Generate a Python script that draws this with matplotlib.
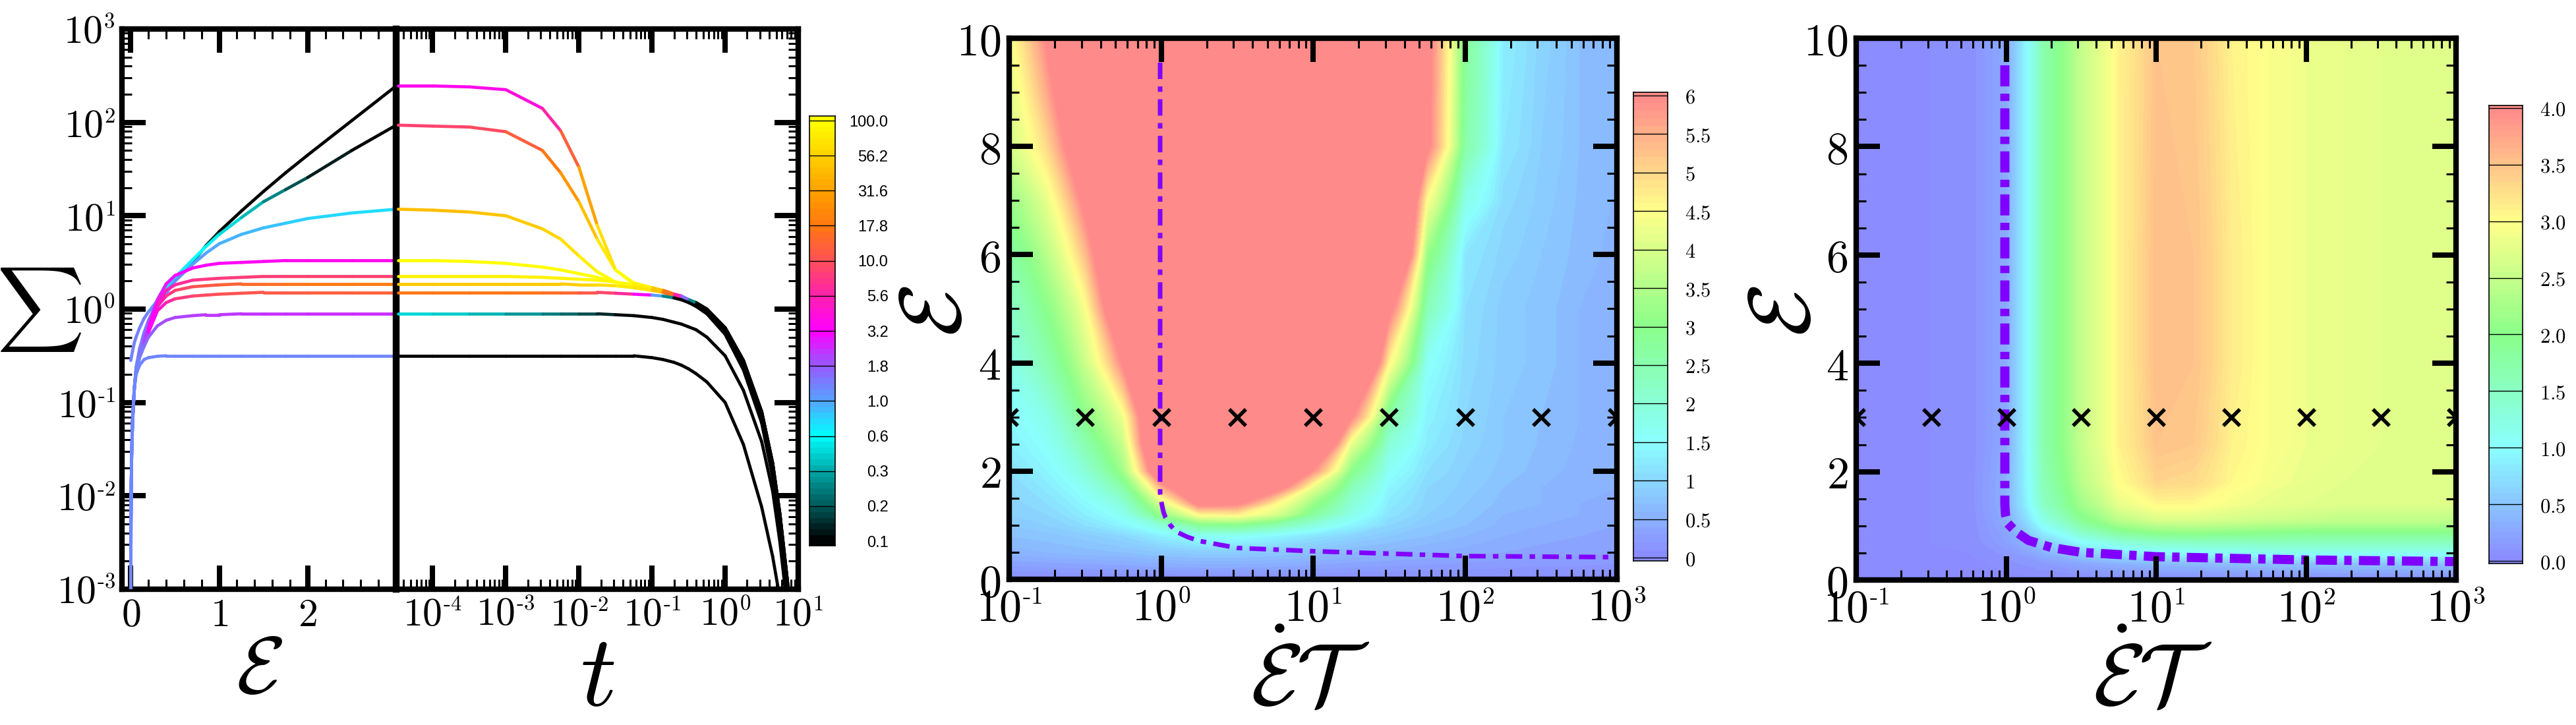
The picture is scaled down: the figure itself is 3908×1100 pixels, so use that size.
import numpy as np
import matplotlib
matplotlib.use("Agg")
import matplotlib.pyplot as plt
from matplotlib.collections import LineCollection
from matplotlib.colors import LinearSegmentedColormap, LogNorm, Normalize, ListedColormap, hsv_to_rgb
from matplotlib.ticker import FixedLocator, FixedFormatter, NullFormatter, LogLocator

try:
    import matplotlib._mathtext as _mt
    _mt.SHRINK_FACTOR = 0.55
except Exception:
    pass

plt.rcParams["mathtext.fontset"] = "cm"
plt.rcParams["font.family"] = ["DejaVu Serif"]
plt.rcParams["axes.axisbelow"] = False

# ===================== DATA =====================
# ---- left panel: loading (Sigma vs strain), log10(Sigma) and colour value ----
eps_pts = [0.0, 0.002, 0.005, 0.01, 0.02, 0.04, 0.06, 0.1, 0.15, 0.2, 0.3, 0.4,
           0.5, 0.7, 0.85, 1.0, 1.25, 1.5, 1.75, 2.0, 2.5, 3.0]
load_sig_1 = [-0.55, -0.54, -0.52, -0.5, -0.45, -0.36, -0.3, -0.2, -0.1, -0.03, 0.09, 0.2,
              0.3, 0.5, 0.68, 0.83, 1.05, 1.26, 1.46, 1.65, 2.02, 2.39]
load_sig_2 = [-3.6, -2.3, -1.9, -1.55, -1.2, -0.85, -0.62, -0.42, -0.25, -0.12, 0.07, 0.22,
              0.34, 0.53, 0.67, 0.8, 0.98, 1.15, 1.28, 1.41, 1.70, 1.97]
load_sig_3 = [-3.6, -2.3, -1.9, -1.55, -1.2, -0.85, -0.64, -0.45, -0.3, -0.17, 0.02, 0.17,
              0.3, 0.48, 0.6, 0.7, 0.8, 0.87, 0.92, 0.97, 1.03, 1.07]
load_sig_4 = [-3.6, -2.3, -1.9, -1.55, -1.2, -0.85, -0.65, -0.47, -0.3, -0.15, 0.1, 0.27,
              0.36, 0.44, 0.47, 0.49, 0.5, 0.51, 0.52, 0.52, 0.52, 0.52]
load_sig_5 = [-3.6, -2.3, -1.9, -1.55, -1.2, -0.85, -0.66, -0.48, -0.33, -0.2, 0.07, 0.2,
              0.26, 0.31, 0.32, 0.33, 0.34, 0.35, 0.35, 0.35, 0.35, 0.35]
load_sig_6 = [-3.6, -2.3, -1.9, -1.55, -1.2, -0.85, -0.66, -0.49, -0.35, -0.22, 0.03, 0.14,
              0.2, 0.24, 0.25, 0.26, 0.27, 0.27, 0.27, 0.27, 0.27, 0.27]
load_sig_7 = [-3.6, -2.3, -1.9, -1.55, -1.2, -0.85, -0.67, -0.5, -0.37, -0.25, -0.02, 0.07,
              0.11, 0.14, 0.15, 0.16, 0.17, 0.18, 0.18, 0.18, 0.18, 0.18]
load_sig_8 = [-3.6, -2.3, -1.9, -1.55, -1.2, -0.85, -0.68, -0.52, -0.4, -0.3, -0.18, -0.12,
              -0.09, -0.07, -0.06, -0.06, -0.05, -0.05, -0.05, -0.05, -0.05, -0.05]
load_sig_9 = [-3.6, -2.3, -1.9, -1.55, -1.2, -0.85, -0.7, -0.6, -0.54, -0.52, -0.505, -0.5,
              -0.5, -0.5, -0.5, -0.5, -0.5, -0.5, -0.5, -0.5, -0.5, -0.5]

load_col_1 = [1.3, 1.3, 1.3, 1.3, 1.3, 1.3, 1.3, 1.3, 1.3, 1.3, 1.0, 0.8,
              0.65, 0.35, 0.18, 0.1, 0.1, 0.1, 0.1, 0.1, 0.1, 0.1]
load_col_2 = [1.3, 1.3, 1.3, 1.3, 1.3, 1.3, 1.3, 1.3, 1.3, 1.3, 1.0, 0.8,
              0.7, 0.6, 0.55, 0.5, 0.4, 0.3, 0.2, 0.15, 0.1, 0.1]
load_col_3 = [1.3, 1.3, 1.3, 1.3, 1.3, 1.3, 1.3, 1.3, 1.3, 1.3, 1.3, 1.25,
              1.2, 1.1, 1.0, 0.95, 0.9, 0.85, 0.8, 0.75, 0.72, 0.7]
load_col_4 = [1.3, 1.3, 1.3, 1.3, 1.3, 1.3, 1.3, 1.3, 1.5, 1.8, 2.4, 2.8,
              3.0, 3.2, 3.3, 3.3, 3.4, 3.5, 3.5, 3.6, 3.6, 3.6]
load_col_5 = [1.3, 1.3, 1.3, 1.3, 1.3, 1.3, 1.3, 1.3, 1.8, 2.5, 4.0, 5.0,
              6.0, 7.0, 7.5, 7.8, 8.0, 8.2, 8.4, 8.5, 8.5, 8.5]
load_col_6 = [1.3, 1.3, 1.3, 1.3, 1.3, 1.3, 1.3, 1.3, 1.8, 2.6, 4.5, 6.5,
              8.0, 10.0, 11.0, 12.0, 14.0, 15.0, 16.0, 17.0, 18.0, 19.0]
load_col_7 = [1.3, 1.3, 1.3, 1.3, 1.3, 1.3, 1.3, 1.3, 1.8, 2.5, 4.0, 5.5,
              7.0, 8.5, 9.5, 10.0, 10.5, 11.0, 11.5, 12.0, 12.5, 13.0]
load_col_8 = [1.3, 1.3, 1.3, 1.3, 1.3, 1.3, 1.3, 1.3, 1.5, 1.6, 1.8, 1.9,
              2.0, 2.1, 2.15, 2.2, 2.25, 2.3, 2.3, 2.35, 2.4, 2.4]
load_col_9 = [1.25] * 22

# ---- left panel: relaxation (Sigma vs time), log10(t), log10(Sigma), colour ----
logt_pts = [-4.47, -4.0, -3.5, -3.0, -2.5, -2.25, -2.0, -1.75, -1.5, -1.25, -1.0, -0.85,
            -0.7, -0.6, -0.5, -0.4, -0.25, 0.0, 0.25, 0.5, 0.65, 0.75, 0.85, 0.95]
rel_sig_1 = [2.39, 2.39, 2.38, 2.35, 2.15, 1.91, 1.52, 0.9, 0.42, 0.27, 0.22, 0.2,
             0.16, 0.14, 0.1, 0.07, 0.0, -0.2, -0.55, -1.1, -1.65, -2.2, -2.9, -3.6]
rel_sig_2 = [1.97, 1.96, 1.95, 1.9, 1.7, 1.46, 1.15, 0.75, 0.42, 0.28, 0.23, 0.2,
             0.16, 0.14, 0.1, 0.07, 0.0, -0.2, -0.55, -1.1, -1.65, -2.2, -2.9, -3.6]
rel_sig_3 = [1.07, 1.06, 1.04, 1.0, 0.86, 0.75, 0.57, 0.4, 0.29, 0.24, 0.22, 0.2,
             0.16, 0.14, 0.1, 0.07, 0.0, -0.2, -0.55, -1.1, -1.65, -2.2, -2.9, -3.6]
rel_sig_4 = [0.52, 0.52, 0.51, 0.49, 0.45, 0.42, 0.38, 0.34, 0.29, 0.25, 0.21, 0.19,
             0.15, 0.12, 0.09, 0.06, -0.02, -0.22, -0.57, -1.12, -1.67, -2.23, -2.93, -3.6]
rel_sig_5 = [0.35, 0.35, 0.35, 0.35, 0.34, 0.33, 0.32, 0.31, 0.29, 0.26, 0.21, 0.19,
             0.15, 0.12, 0.09, 0.06, -0.02, -0.22, -0.57, -1.12, -1.67, -2.23, -2.93, -3.6]
rel_sig_6 = [0.27, 0.27, 0.27, 0.27, 0.27, 0.27, 0.26, 0.26, 0.25, 0.23, 0.2, 0.18,
             0.14, 0.11, 0.08, 0.05, -0.03, -0.24, -0.6, -1.15, -1.7, -2.27, -2.97, -3.6]
rel_sig_7 = [0.18, 0.18, 0.18, 0.18, 0.18, 0.18, 0.18, 0.18, 0.17, 0.16, 0.15, 0.14,
             0.12, 0.1, 0.07, 0.03, -0.05, -0.27, -0.65, -1.22, -1.8, -2.4, -3.1, -3.8]
rel_sig_8 = [-0.05, -0.05, -0.05, -0.05, -0.05, -0.05, -0.05, -0.05, -0.06, -0.07, -0.09, -0.11,
             -0.14, -0.16, -0.19, -0.22, -0.3, -0.5, -0.87, -1.42, -1.95, -2.5, -3.2, -3.9]
rel_sig_9 = [-0.5, -0.5, -0.5, -0.5, -0.5, -0.5, -0.5, -0.5, -0.5, -0.5, -0.52, -0.54,
             -0.57, -0.6, -0.64, -0.69, -0.78, -1.0, -1.45, -2.12, -2.65, -3.1, -3.7, -4.3]

rel_col_1 = [3.6, 3.6, 3.6, 3.7, 4.5, 8.0, 20.0, 50.0, 90.0, 100.0, 70.0, 35.0,
             8.0, 4.0, 0.6, 0.1, 0.1, 0.1, 0.1, 0.1, 0.1, 0.1, 0.1, 0.1]
rel_col_2 = [8.5, 8.5, 9.0, 10.0, 15.0, 22.0, 35.0, 60.0, 90.0, 100.0, 70.0, 35.0,
             8.0, 4.0, 0.6, 0.1, 0.1, 0.1, 0.1, 0.1, 0.1, 0.1, 0.1, 0.1]
rel_col_3 = [45.0, 45.0, 46.0, 48.0, 55.0, 62.0, 75.0, 90.0, 100.0, 100.0, 70.0, 35.0,
             8.0, 4.0, 0.6, 0.1, 0.1, 0.1, 0.1, 0.1, 0.1, 0.1, 0.1, 0.1]
rel_col_4 = [100.0, 100.0, 100.0, 100.0, 100.0, 100.0, 100.0, 100.0, 100.0, 100.0, 70.0, 35.0,
             8.0, 4.0, 0.6, 0.1, 0.1, 0.1, 0.1, 0.1, 0.1, 0.1, 0.1, 0.1]
rel_col_5 = [85.0, 85.0, 85.0, 85.0, 85.0, 85.0, 88.0, 90.0, 92.0, 95.0, 70.0, 35.0,
             8.0, 4.0, 0.6, 0.1, 0.1, 0.1, 0.1, 0.1, 0.1, 0.1, 0.1, 0.1]
rel_col_6 = [50.0, 50.0, 50.0, 50.0, 50.0, 50.0, 55.0, 60.0, 70.0, 80.0, 65.0, 35.0,
             8.0, 4.0, 0.6, 0.1, 0.1, 0.1, 0.1, 0.1, 0.1, 0.1, 0.1, 0.1]
rel_col_7 = [17.0, 17.0, 17.0, 17.0, 16.0, 15.0, 13.0, 10.0, 8.0, 5.0, 1.8, 0.6,
             0.1, 0.1, 0.1, 0.1, 0.1, 0.1, 0.1, 0.1, 0.1, 0.1, 0.1, 0.1]
rel_col_8 = [0.45, 0.42, 0.38, 0.32, 0.25, 0.22, 0.18, 0.15, 0.12, 0.1, 0.1, 0.1,
             0.1, 0.1, 0.1, 0.1, 0.1, 0.1, 0.1, 0.1, 0.1, 0.1, 0.1, 0.1]
rel_col_9 = [0.1] * 24

cb1_ticks = [0.1, 0.178, 0.316, 0.562, 1.0, 1.78, 3.16, 5.62, 10.0, 17.8, 31.6, 56.2, 100.0]
cb1_labels = ["0.1", "0.2", "0.3", "0.6", "1.0", "1.8", "3.2", "5.6", "10.0", "17.8",
              "31.6", "56.2", "100.0"]
cb1_colors = ["#000000", "#005858", "#00a8a8", "#00ffff", "#55a4ff", "#9858ff", "#ff00ff",
              "#ff20b0", "#ff5058", "#ff7810", "#ffa000", "#ffd000", "#ffff00"]

eps_ticks = [0, 1, 2]
sig_ticks = [1e-3, 1e-2, 1e-1, 1e0, 1e1, 1e2, 1e3]
sig_labels = [r"$10^{\text{-}3}$", r"$10^{\text{-}2}$", r"$10^{\text{-}1}$", r"$10^{0}$",
              r"$10^{1}$", r"$10^{2}$", r"$10^{3}$"]
t_ticks = [1e-4, 1e-3, 1e-2, 1e-1, 1e0, 1e1]
t_labels = [r"$10^{\text{-}4}$", r"$10^{\text{-}3}$", r"$10^{\text{-}2}$", r"$10^{\text{-}1}$",
            r"$10^{0}$", r"$10^{1}$"]

# ---- middle / right maps: grid of rate (x) and strain (y) ----
map_rate = [0.1, 0.178, 0.316, 0.562, 1.0, 1.78, 3.16, 5.62, 10.0, 17.8, 31.6, 56.2,
            100.0, 178.0, 316.0, 562.0, 1000.0]
mid_eps = [0.0, 0.5, 0.8, 1.0, 1.2, 1.4, 1.7, 2.0, 2.5, 3.0, 4.0, 5.0, 6.0, 7.0, 8.0, 9.0, 10.0]
mid_vals = [
    [0.05, 0.05, 0.05, 0.05, 0.05, 0.05, 0.05, 0.05, 0.05, 0.05, 0.05, 0.05, 0.05, 0.05, 0.05, 0.05, 0.05],
    [0.55, 0.6, 0.65, 0.7, 0.8, 0.85, 0.85, 0.8, 0.7, 0.6, 0.55, 0.5, 0.45, 0.4, 0.35, 0.35, 0.3],
    [0.7, 0.75, 0.85, 1.0, 1.3, 1.6, 1.6, 1.4, 1.15, 0.95, 0.8, 0.7, 0.6, 0.5, 0.45, 0.4, 0.4],
    [0.8, 0.9, 1.1, 1.4, 2.0, 2.8, 2.9, 2.5, 1.9, 1.4, 1.0, 0.8, 0.7, 0.55, 0.5, 0.45, 0.4],
    [0.9, 1.0, 1.3, 1.7, 3.2, 4.6, 4.7, 4.0, 2.7, 1.8, 1.15, 0.9, 0.75, 0.6, 0.55, 0.5, 0.45],
    [0.95, 1.1, 1.45, 2.0, 4.0, 6.3, 6.1, 4.6, 3.2, 2.0, 1.25, 0.95, 0.8, 0.65, 0.6, 0.5, 0.45],
    [1.0, 1.25, 1.7, 2.6, 5.5, 8.0, 8.0, 6.5, 4.2, 2.4, 1.4, 1.0, 0.85, 0.7, 0.6, 0.55, 0.5],
    [1.1, 1.4, 2.0, 3.3, 7.5, 9.0, 9.0, 9.0, 5.9, 3.0, 1.6, 1.1, 0.9, 0.75, 0.65, 0.55, 0.5],
    [1.3, 1.6, 2.5, 3.8, 9.0, 9.0, 9.0, 9.0, 8.0, 4.2, 2.0, 1.25, 0.95, 0.8, 0.68, 0.58, 0.5],
    [1.45, 1.8, 3.0, 4.3, 9.0, 9.0, 9.0, 9.0, 9.0, 6.1, 2.6, 1.35, 1.0, 0.8, 0.7, 0.6, 0.5],
    [1.8, 2.5, 3.8, 6.1, 9.0, 9.0, 9.0, 9.0, 9.0, 9.0, 4.6, 1.6, 1.05, 0.85, 0.75, 0.6, 0.5],
    [2.2, 3.0, 4.4, 8.0, 9.0, 9.0, 9.0, 9.0, 9.0, 9.0, 6.3, 2.4, 1.1, 0.85, 0.75, 0.6, 0.55],
    [2.6, 3.6, 5.3, 9.0, 9.0, 9.0, 9.0, 9.0, 9.0, 9.0, 9.0, 3.2, 1.2, 0.95, 0.8, 0.65, 0.55],
    [3.2, 4.2, 6.3, 9.0, 9.0, 9.0, 9.0, 9.0, 9.0, 9.0, 9.0, 4.5, 1.8, 1.05, 0.85, 0.68, 0.58],
    [3.9, 5.0, 7.5, 9.0, 9.0, 9.0, 9.0, 9.0, 9.0, 9.0, 9.0, 6.2, 2.6, 1.2, 0.9, 0.7, 0.6],
    [4.1, 5.6, 8.5, 9.0, 9.0, 9.0, 9.0, 9.0, 9.0, 9.0, 9.0, 6.25, 2.7, 1.25, 0.92, 0.7, 0.6],
    [4.4, 6.1, 9.0, 9.0, 9.0, 9.0, 9.0, 9.0, 9.0, 9.0, 9.0, 6.3, 2.8, 1.3, 0.95, 0.7, 0.6],
]
right_eps = [0.0, 0.3, 0.5, 0.7, 0.9, 1.1, 1.4, 1.8, 2.5, 4.0, 6.0, 10.0]
right_vals = [
    [0.02, 0.02, 0.02, 0.02, 0.02, 0.02, 0.02, 0.02, 0.02, 0.02, 0.02, 0.02, 0.02, 0.02, 0.02, 0.02, 0.02],
    [0.03, 0.03, 0.03, 0.03, 0.08, 0.15, 0.25, 0.35, 0.4, 0.42, 0.45, 0.47, 0.48, 0.5, 0.5, 0.5, 0.5],
    [0.04, 0.04, 0.04, 0.05, 0.12, 0.35, 0.6, 0.8, 0.95, 1.0, 1.05, 1.1, 1.1, 1.1, 1.1, 1.1, 1.1],
    [0.05, 0.05, 0.05, 0.06, 0.2, 0.6, 1.0, 1.3, 1.45, 1.5, 1.5, 1.55, 1.55, 1.55, 1.55, 1.55, 1.55],
    [0.05, 0.05, 0.05, 0.06, 0.25, 0.9, 1.5, 1.9, 2.1, 2.15, 2.1, 2.05, 2.0, 2.0, 2.0, 2.0, 2.0],
    [0.05, 0.05, 0.05, 0.06, 0.3, 1.2, 1.9, 2.4, 2.65, 2.65, 2.6, 2.55, 2.5, 2.45, 2.45, 2.45, 2.45],
    [0.05, 0.05, 0.05, 0.06, 0.35, 1.5, 2.2, 2.8, 3.05, 3.05, 2.9, 2.8, 2.75, 2.7, 2.7, 2.7, 2.7],
    [0.05, 0.05, 0.05, 0.06, 0.35, 1.6, 2.4, 3.0, 3.35, 3.3, 3.05, 2.9, 2.8, 2.75, 2.75, 2.75, 2.75],
    [0.05, 0.05, 0.05, 0.06, 0.3, 1.7, 2.5, 3.1, 3.5, 3.45, 3.1, 2.95, 2.85, 2.8, 2.75, 2.75, 2.75],
    [0.05, 0.05, 0.05, 0.06, 0.3, 1.7, 2.5, 3.1, 3.55, 3.5, 3.15, 2.95, 2.85, 2.8, 2.75, 2.75, 2.75],
    [0.05, 0.05, 0.05, 0.06, 0.3, 1.7, 2.5, 3.1, 3.55, 3.5, 3.15, 2.95, 2.85, 2.8, 2.75, 2.75, 2.75],
    [0.05, 0.05, 0.05, 0.06, 0.3, 1.7, 2.5, 3.1, 3.5, 3.45, 3.1, 2.95, 2.85, 2.8, 2.75, 2.75, 2.75],
]
mid_line_rate = [0.985, 0.985, 1.0, 1.035, 1.07, 1.15, 1.26, 1.5, 1.78, 3.16, 10.0, 100.0, 1000.0]
mid_line_eps = [9.55, 1.6, 1.45, 1.25, 1.14, 1.0, 0.88, 0.78, 0.71, 0.58, 0.52, 0.43, 0.41]
right_line_rate = [0.98, 0.98, 0.99, 1.02, 1.15, 1.41, 2.0, 3.16, 10.0, 100.0, 1000.0]
right_line_eps = [9.5, 1.4, 1.2, 1.05, 0.9, 0.73, 0.6, 0.51, 0.43, 0.37, 0.34]
mark_rate = [0.1, 0.316, 1.0, 3.16, 10.0, 31.6, 100.0, 316.0, 1000.0]
mark_eps = [3, 3, 3, 3, 3, 3, 3, 3, 3]

map_xticks = [0.1, 1, 10, 100, 1000]
map_xlabels = [r"$10^{\text{-}1}$", r"$10^{0}$", r"$10^{1}$", r"$10^{2}$", r"$10^{3}$"]
map_yticks = [0, 2, 4, 6, 8, 10]
cb2_ticks = [0, 0.5, 1, 1.5, 2, 2.5, 3, 3.5, 4, 4.5, 5, 5.5, 6]
cb2_labels = ["0", "0.5", "1", "1.5", "2", "2.5", "3", "3.5", "4", "4.5", "5", "5.5", "6"]
cb3_ticks = [0, 0.5, 1, 1.5, 2, 2.5, 3, 3.5, 4]
cb3_labels = ["0.0", "0.5", "1.0", "1.5", "2.0", "2.5", "3.0", "3.5", "4.0"]

# ===================== STYLE / LAYOUT =====================
W, H = 3908.0, 1100.0
fig = plt.figure(figsize=(W / 100, H / 100), dpi=100)


def rect(x0, x1, y0, y1):
    return [x0 / W, 1 - y1 / H, (x1 - x0) / W, (y1 - y0) / H]


ax_e = fig.add_axes(rect(185, 601, 44, 894))
ax_t = fig.add_axes(rect(601, 1211, 44, 894))
cax1 = fig.add_axes(rect(1228, 1267, 176, 828))
ax_m = fig.add_axes(rect(1531, 2453, 58, 879))
cax2 = fig.add_axes(rect(2478, 2530, 140, 851))
ax_r = fig.add_axes(rect(2816, 3726, 58, 880))
cax3 = fig.add_axes(rect(3776, 3827, 160, 855))
ax_t.patch.set_visible(False)

cmap_left = LinearSegmentedColormap.from_list(
    "relax", list(zip(np.linspace(0, 1, len(cb1_colors)), cb1_colors)))
norm_left = LogNorm(0.1, 100)

hues = np.linspace(240, 0, 256) / 360.0
hsv = np.column_stack([hues, np.full(256, 0.46), np.ones(256)])
cmap_map = ListedColormap(hsv_to_rgb(hsv))

MAJ = dict(length=26, width=5.8)
MIN = dict(length=11, width=2.2)


def frame(ax, lw=6):
    for s in ax.spines.values():
        s.set_linewidth(lw)


def colored_line(ax, x, y, c):
    pts = np.column_stack([x, y])
    segs = np.stack([pts[:-1], pts[1:]], axis=1)
    c = np.asarray(c, float)
    lc = LineCollection(segs, cmap=cmap_left, norm=norm_left, linewidths=3.4,
                        capstyle="round", joinstyle="round", zorder=3)
    lc.set_array(np.sqrt(c[:-1] * c[1:]))
    ax.add_collection(lc)


# ---------------- left panel ----------------
load_sigs = [load_sig_1, load_sig_2, load_sig_3, load_sig_4, load_sig_5, load_sig_6, load_sig_7, load_sig_8, load_sig_9]
load_cols = [load_col_1, load_col_2, load_col_3, load_col_4, load_col_5, load_col_6, load_col_7, load_col_8, load_col_9]
rel_sigs = [rel_sig_1, rel_sig_2, rel_sig_3, rel_sig_4, rel_sig_5, rel_sig_6, rel_sig_7, rel_sig_8, rel_sig_9]
rel_cols = [rel_col_1, rel_col_2, rel_col_3, rel_col_4, rel_col_5, rel_col_6, rel_col_7, rel_col_8, rel_col_9]

for s, c in zip(load_sigs, load_cols):
    colored_line(ax_e, eps_pts, 10.0 ** np.array(s), c)
for s, c in zip(rel_sigs, rel_cols):
    colored_line(ax_t, 10.0 ** np.array(logt_pts), 10.0 ** np.array(s), c)

for ax in (ax_e, ax_t):
    ax.set_yscale("log")
    ax.set_ylim(1e-3, 1e3)
    frame(ax)
ax_e.set_xlim(-0.1, 3.0)
ax_t.set_xscale("log")
ax_t.set_xlim(10 ** -4.5, 10)
ax_e.spines["right"].set_linewidth(7.5)
ax_e.spines["right"].set_zorder(5)
ax_t.spines["left"].set_visible(False)

ax_e.xaxis.set_major_locator(FixedLocator(eps_ticks))
ax_e.xaxis.set_major_formatter(FixedFormatter([r"$%d$" % v for v in eps_ticks]))
ax_e.xaxis.set_minor_locator(FixedLocator([0.2, 0.4, 0.6, 0.8, 1.2, 1.4, 1.6, 1.8, 2.2, 2.4, 2.6, 2.8]))
ax_e.yaxis.set_major_locator(FixedLocator(sig_ticks))
ax_e.yaxis.set_major_formatter(FixedFormatter(sig_labels))
ax_e.yaxis.set_minor_locator(LogLocator(base=10, subs=np.arange(2, 10), numticks=30))
ax_e.yaxis.set_minor_formatter(NullFormatter())
ax_e.tick_params(which="both", direction="in", top=True, bottom=True, left=True, right=False)
ax_e.tick_params(which="major", labelsize=43, pad=7, **MAJ)
ax_e.tick_params(which="minor", **MIN)

ax_t.xaxis.set_major_locator(FixedLocator(t_ticks))
ax_t.xaxis.set_major_formatter(FixedFormatter(t_labels))
ax_t.xaxis.set_minor_locator(LogLocator(base=10, subs=np.arange(2, 10), numticks=30))
ax_t.xaxis.set_minor_formatter(NullFormatter())
ax_t.yaxis.set_major_locator(FixedLocator(sig_ticks))
ax_t.yaxis.set_minor_locator(LogLocator(base=10, subs=np.arange(2, 10), numticks=30))
ax_t.yaxis.set_minor_formatter(NullFormatter())
ax_t.tick_params(which="both", direction="in", top=True, bottom=True, left=False, right=True,
                 labelleft=False, labelright=False)
ax_t.tick_params(which="major", labelsize=43, pad=7, **MAJ)
ax_t.tick_params(which="minor", **MIN)

# colorbar 1 (log, stepped)
edges1 = 10.0 ** np.linspace(-1, 2, 73)
cent1 = np.sqrt(edges1[:-1] * edges1[1:])
edges1[0], edges1[-1] = 0.0927, 108.0
cax1.pcolormesh([0, 1], edges1, cent1[:, None], cmap=cmap_left, norm=norm_left)
cax1.set_yscale("log")
cax1.set_ylim(0.0927, 108.0)
cax1.set_xlim(0, 1)
for v in cb1_ticks:
    cax1.axhline(v, color="black", lw=1.0)
cax1.set_xticks([])
cax1.yaxis.set_major_locator(FixedLocator(cb1_ticks))
cax1.yaxis.set_major_formatter(FixedFormatter(cb1_labels))
cax1.yaxis.set_minor_locator(FixedLocator([]))
cax1.yaxis.tick_right()
cax1.tick_params(axis="y", length=0, pad=58, labelsize=17)
for lab in cax1.get_yticklabels():
    lab.set_horizontalalignment("right")
    lab.set_fontfamily("Liberation Sans")
frame(cax1, 1.2)


# ---------------- maps ----------------
def map_axes(ax, eps_rows, vals, vmax, step, line_rate, line_eps, lw, dashes):
    Z = np.array(vals)
    levels = np.arange(0, vmax + step / 2, step)
    ax.contourf(map_rate, eps_rows, Z, levels=levels, cmap=cmap_map,
                norm=Normalize(0, vmax), extend="both", zorder=0.5)
    ax.plot(line_rate, line_eps, color="#8000ff", lw=lw, dashes=dashes,
            solid_capstyle="butt", dash_capstyle="butt", zorder=2)
    ax.plot(mark_rate, mark_eps, "x", color="black", ms=18, mew=4.0, zorder=3)
    ax.set_xscale("log")
    ax.set_xlim(0.1, 1000)
    ax.set_ylim(0, 10)
    frame(ax)
    ax.xaxis.set_major_locator(FixedLocator(map_xticks))
    ax.xaxis.set_major_formatter(FixedFormatter(map_xlabels))
    ax.xaxis.set_minor_locator(LogLocator(base=10, subs=np.arange(2, 10), numticks=30))
    ax.xaxis.set_minor_formatter(NullFormatter())
    ax.yaxis.set_major_locator(FixedLocator(map_yticks))
    ax.yaxis.set_major_formatter(FixedFormatter([r"$%d$" % v for v in map_yticks]))
    ax.yaxis.set_minor_locator(FixedLocator(np.arange(0.5, 10, 0.5)))
    ax.tick_params(which="both", direction="in", top=True, bottom=True, left=True, right=True)
    ax.tick_params(which="major", labelsize=49, pad=9, **MAJ)
    ax.tick_params(which="minor", **MIN)


def map_colorbar(cax, vmax, step, ticks, labels, lo, hi):
    edges = np.arange(0, vmax + step / 2, step)
    cent = 0.5 * (edges[:-1] + edges[1:])
    edges[0], edges[-1] = lo, hi
    cax.pcolormesh([0, 1], edges, cent[:, None], cmap=cmap_map, norm=Normalize(0, vmax))
    cax.set_ylim(lo, hi)
    cax.set_xlim(0, 1)
    for v in ticks:
        cax.axhline(v, color="black", lw=1.0)
    cax.set_xticks([])
    cax.yaxis.set_major_locator(FixedLocator(ticks))
    cax.yaxis.set_major_formatter(FixedFormatter([r"$\mathbf{%s}$" % s for s in labels]))
    cax.yaxis.tick_right()
    cax.tick_params(axis="y", length=0, pad=19, labelsize=22)
    frame(cax, 1.2)


map_axes(ax_m, mid_eps, mid_vals, 6.0, 0.1, mid_line_rate, mid_line_eps, 5.0, (3.6, 1.6, 1.2, 1.6))
map_axes(ax_r, right_eps, right_vals, 4.0, 0.05, right_line_rate, right_line_eps, 10.0, (2.3, 0.8, 0.8, 0.8))
map_colorbar(cax2, 6.0, 0.1, cb2_ticks, cb2_labels, -0.04, 6.04)
map_colorbar(cax3, 4.0, 0.05, cb3_ticks, cb3_labels, -0.023, 4.023)

# ---------------- axis labels ----------------
fig.text(60 / W, 1 - 470 / H, r"$\sum$", fontsize=66, ha="center", va="center")
fig.text(393 / W, 1 - 1018 / H, r"$\mathcal{E}$", fontsize=88, ha="center", va="center")
fig.text(906 / W, 1 - 1028 / H, r"$t$", fontsize=110, ha="center", va="center")
fig.text(1988 / W, 1 - 1030 / H, r"$\dot{\mathcal{E}}\mathcal{T}$", fontsize=95, ha="center", va="center")
fig.text(1420 / W, 1 - 472 / H, r"$\mathcal{E}$", fontsize=95, rotation=90, ha="center", va="center")
fig.text(3266 / W, 1 - 1030 / H, r"$\dot{\mathcal{E}}\mathcal{T}$", fontsize=95, ha="center", va="center")
fig.text(2708 / W, 1 - 472 / H, r"$\mathcal{E}$", fontsize=95, rotation=90, ha="center", va="center")

fig.savefig("out.png", dpi=100)
